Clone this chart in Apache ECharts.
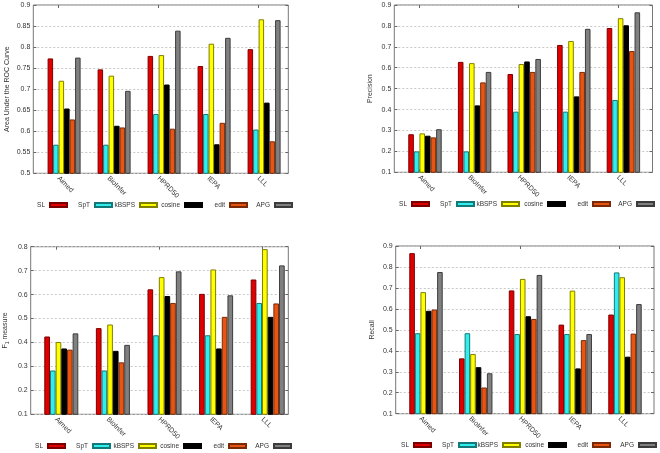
<!DOCTYPE html>
<html>
<head>
<meta charset="utf-8">
<script src="https://cdn.jsdelivr.net/npm/echarts@6/dist/echarts.min.js"></script>
<style>html,body{margin:0;padding:0;background:#fff}#c{width:660px;height:453px}</style>
</head>
<body>
<div id="c"></div>
<script>
// ---------- data ----------
const categories = ['Aimed', 'BioInfer', 'HPRD50', 'IEPA', 'LLL'];
const methods = ['SL', 'SpT', 'kBSPS', 'cosine', 'edit', 'APG'];

// Area under the ROC curve
const aucSL     = [0.773, 0.747, 0.779, 0.755, 0.795];
const aucSpT    = [0.568, 0.568, 0.641, 0.641, 0.604];
const aucKBSPS  = [0.720, 0.732, 0.781, 0.808, 0.866];
const aucCosine = [0.654, 0.613, 0.711, 0.569, 0.668];
const aucEdit   = [0.628, 0.609, 0.606, 0.620, 0.576];
const aucAPG    = [0.775, 0.696, 0.839, 0.822, 0.864];

// Precision
const precSL     = [0.282, 0.628, 0.570, 0.709, 0.790];
const precSpT    = [0.200, 0.200, 0.390, 0.390, 0.446];
const precKBSPS  = [0.286, 0.622, 0.618, 0.728, 0.837];
const precCosine = [0.275, 0.420, 0.630, 0.463, 0.803];
const precEdit   = [0.267, 0.530, 0.580, 0.580, 0.680];
const precAPG    = [0.306, 0.580, 0.642, 0.786, 0.865];

// F1 measure
const f1SL     = [0.425, 0.460, 0.622, 0.603, 0.663];
const f1SpT    = [0.283, 0.283, 0.430, 0.430, 0.565];
const f1KBSPS  = [0.402, 0.475, 0.673, 0.705, 0.790];
const f1Cosine = [0.375, 0.365, 0.594, 0.375, 0.507];
const f1Edit   = [0.370, 0.317, 0.565, 0.507, 0.563];
const f1APG    = [0.438, 0.390, 0.697, 0.597, 0.722];

// Recall
const recSL     = [0.866, 0.364, 0.688, 0.525, 0.573];
const recSpT    = [0.484, 0.484, 0.480, 0.480, 0.774];
const recKBSPS  = [0.680, 0.385, 0.743, 0.687, 0.751];
const recCosine = [0.591, 0.322, 0.565, 0.316, 0.372];
const recEdit   = [0.597, 0.225, 0.552, 0.451, 0.482];
const recAPG    = [0.776, 0.293, 0.762, 0.480, 0.623];

// axis ranges
const aucAxis  = {min: 0.5, max: 0.9, interval: 0.05};
const precAxis = {min: 0.1, max: 0.9, interval: 0.1};
const f1Axis   = {min: 0.1, max: 0.8, interval: 0.1};
const recAxis  = {min: 0.1, max: 0.9, interval: 0.1};

// ---------- styles / layout ----------
const FONT = '"Liberation Sans", Arial, Helvetica, sans-serif';
const fills   = ['#e00000', '#30eeee', '#ffff00', '#000000', '#e85412', '#808080'];
const borders = ['#7a0000', '#157878', '#7f7f00', '#000000', '#7a2a06', '#3c3c3c'];

const panels = [
  {name: 'Area Under the ROC Curve', values: [aucSL, aucSpT, aucKBSPS, aucCosine, aucEdit, aucAPG], axis: aucAxis,
   left: 33.3, right: 288.3, top: 5, bottom: 173.3, tick0: 58.3, step: 50, off: 5.8, barW: 5.5, nameGap: 23,
   legY: 205, legRight: [68, 113, 158, 203, 248, 293]},
  {name: 'Precision', values: [precSL, precSpT, precKBSPS, precCosine, precEdit, precAPG], axis: precAxis,
   left: 394.3, right: 652.5, top: 5, bottom: 172.3, tick0: 419.4, step: 49.6, off: 5.6, barW: 5.57, nameGap: 21,
   legY: 204, legRight: [430, 475, 520, 566, 611, 655]},
  {name: '{f|F}{s|1}{f| measure}', values: [f1SL, f1SpT, f1KBSPS, f1Cosine, f1Edit, f1APG], axis: f1Axis,
   left: 30.7, right: 288.3, top: 246.7, bottom: 414.3, tick0: 56, step: 51.6, off: 5.3, barW: 5.67, nameGap: 21,
   legY: 446, legRight: [66, 111, 157, 202, 247, 292]},
  {name: 'Recall', values: [recSL, recSpT, recKBSPS, recCosine, recEdit, recAPG], axis: recAxis,
   left: 395.7, right: 654, top: 246, bottom: 413.7, tick0: 420.4, step: 49.75, off: 5.6, barW: 5.57, nameGap: 20.5,
   legY: 445, legRight: [432, 477, 521, 567, 611, 657]}
];

const grid = [], xAxis = [], yAxis = [], series = [], legend = [];
const tickStyle = {color: '#666', width: 1};

panels.forEach(p => {
  const h = p.bottom - p.top;
  const gFrame = grid.length;
  grid.push({left: p.left, top: p.top, width: p.right - p.left, height: h, show: true,
             borderColor: '#777', borderWidth: 1, backgroundColor: 'transparent'});
  const gLabel = grid.length;
  grid.push({left: p.tick0 - p.step / 2, top: p.top, width: p.step * 5, height: h});
  const gBar = grid.length;
  grid.push({left: p.tick0 + p.off - p.step / 2, top: p.top, width: p.step * 5, height: h});

  // frame grid axes
  xAxis.push({gridIndex: gFrame, type: 'value', min: 0, max: 1, show: false});
  yAxis.push({gridIndex: gFrame, type: 'value', position: 'left',
    min: p.axis.min, max: p.axis.max, interval: p.axis.interval,
    axisLine: {show: false},
    axisTick: {show: true, inside: true, length: 3, lineStyle: tickStyle},
    axisLabel: {fontSize: 7, color: '#333', margin: 3, fontFamily: FONT},
    splitLine: {show: true, lineStyle: {color: '#c8c8c8', width: 1, type: [2, 2]}},
    name: p.name, nameLocation: 'middle', nameGap: p.nameGap,
    nameTextStyle: {fontSize: 7, color: '#333', fontFamily: FONT,
      rich: {f: {fontSize: 7, color: '#333', fontFamily: FONT},
             s: {fontSize: 5, color: '#333', fontFamily: FONT, verticalAlign: 'bottom', padding: [4, 0, 0, 0]}}}
  });
  yAxis.push({gridIndex: gFrame, type: 'value', position: 'right',
    min: p.axis.min, max: p.axis.max, interval: p.axis.interval,
    axisLine: {show: false},
    axisTick: {show: true, inside: true, length: 3, lineStyle: tickStyle},
    axisLabel: {show: false}, splitLine: {show: false}});

  // label grid axes
  xAxis.push({gridIndex: gLabel, type: 'category', data: categories, position: 'bottom',
    axisLine: {show: false},
    axisTick: {show: true, inside: true, length: 3, alignWithLabel: true, lineStyle: tickStyle},
    axisLabel: {rotate: -45, fontSize: 7, color: '#333', margin: 4, fontFamily: FONT, interval: 0},
    splitLine: {show: false}});
  xAxis.push({gridIndex: gLabel, type: 'category', data: categories, position: 'top',
    axisLine: {show: false},
    axisTick: {show: true, inside: true, length: 3, alignWithLabel: true, lineStyle: tickStyle},
    axisLabel: {show: false}, splitLine: {show: false}});
  yAxis.push({gridIndex: gLabel, type: 'value', min: p.axis.min, max: p.axis.max, show: false});

  // bar grid axes
  const xb = xAxis.length;
  xAxis.push({gridIndex: gBar, type: 'category', data: categories, show: false});
  const yb = yAxis.length;
  yAxis.push({gridIndex: gBar, type: 'value', min: p.axis.min, max: p.axis.max, show: false});

  methods.forEach((m, i) => {
    series.push({
      name: m, type: 'bar', xAxisIndex: xb, yAxisIndex: yb,
      data: p.values[i], barWidth: p.barW, barGap: '0%',
      itemStyle: {color: fills[i], borderColor: borders[i], borderWidth: 1},
      emphasis: {disabled: true}, silent: true
    });
    legend.push({
      data: [m], right: 660 - p.legRight[i], top: p.legY - 5, align: 'right',
      orient: 'horizontal', padding: 0, itemGap: 0, itemWidth: 17, itemHeight: 4,
      icon: 'rect', selectedMode: false,
      textStyle: {fontSize: 6.5, color: '#333', fontFamily: FONT, lineHeight: 10}
    });
  });
});

const chart = echarts.init(document.getElementById('c'), null, {renderer: 'canvas'});
chart.setOption({
  animation: false,
  backgroundColor: '#ffffff',
  grid, xAxis, yAxis, series, legend
});
</script>
</body>
</html>
